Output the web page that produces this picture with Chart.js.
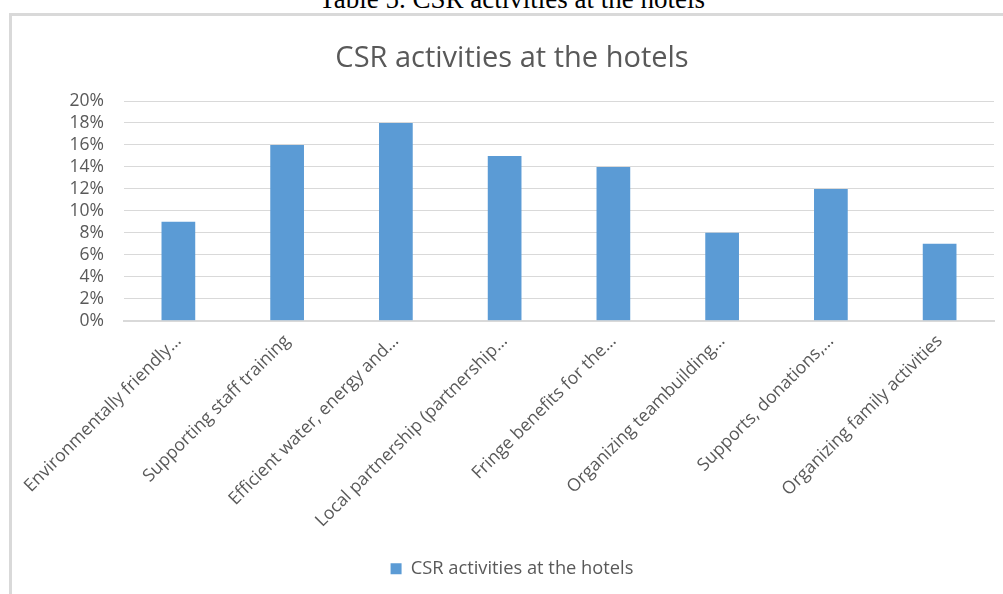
<!DOCTYPE html>
<html>
<head>
<meta charset="utf-8">
<script src="https://cdn.jsdelivr.net/npm/chart.js@4"></script>
<style>
    html, body { margin: 0; padding: 0; background: #fff; overflow: hidden; }
    body { width: 1003px; height: 594px; position: relative; }
    #caption {
        position: absolute; left: 0; width: 1024px; top: -14px;
        text-align: center; font: 27px/27px "Liberation Serif", "Times New Roman", serif; color: #000;
    }
    #box {
        position: absolute; left: 9px; top: 13px; width: 1010px; height: 600px;
        border-top: 3px solid #d9d9d9; border-left: 3px solid #d9d9d9;
    }
    #wrap { position: absolute; left: 11px; top: 16px; width: 992px; height: 578px; }
</style>
</head>
<body>
<div id="caption">Table 5. CSR activities at the hotels</div>
<div id="box"></div>
<div id="wrap"><canvas id="bar-chart"></canvas></div>
<script>
let categories = [
    'Environmentally friendly…',
    'Supporting staff training',
    'Efficient water, energy and…',
    'Local partnership (partnership…',
    'Fringe benefits for the…',
    'Organizing teambuilding…',
    'Supports, donations,…',
    'Organizing family activities'
];
let csrValues = [9, 16, 18, 15, 14, 8, 12, 7];
let yTicks = [0, 2, 4, 6, 8, 10, 12, 14, 16, 18, 20];

const seriesName = 'CSR activities at the hotels';
const grey = '#595959';
const font = '"Open Sans", Lato, sans-serif';

function getData() {
    return {
        labels: categories,
        datasets: [
            {
                label: seriesName,
                data: csrValues,
                backgroundColor: '#5b9bd5',
                borderWidth: 0,
                barPercentage: 0.31,
                categoryPercentage: 1.0,
            },
        ]
    };
}

function getConfig(data) {
    let config = {
        type: 'bar',
        data: data,
        options: {
            responsive: true,
            maintainAspectRatio: false,
            animation: false,
            layout: { padding: { left: 19, right: 9, top: 0, bottom: 6 } },
            plugins: {
                title: {
                    display: true,
                    text: 'CSR activities at the hotels',
                    color: grey,
                    font: { family: font, size: 29, weight: 'normal' },
                    padding: { top: 25, bottom: 25.2 }
                },
                legend: {
                    position: 'bottom',
                    labels: {
                        color: grey,
                        boxWidth: 11,
                        boxHeight: 11,
                        padding: 8,
                        font: { family: font, size: 18.3 }
                    }
                },
                tooltip: { enabled: false }
            },
            scales: {
                x: {
                    grid: { display: false },
                    border: { color: '#d9d9d9', width: 2 },
                    ticks: {
                        color: grey,
                        font: { family: font, size: 17.6 },
                        minRotation: 45,
                        maxRotation: 45,
                        autoSkip: false,
                        padding: 2
                    },
                    afterFit: function (scale) { scale.height = 231; }
                },
                y: {
                    min: 0,
                    max: 20,
                    grid: { color: '#d9d9d9', lineWidth: 1, drawTicks: false },
                    border: { display: false },
                    afterBuildTicks: function (scale) {
                        scale.ticks = yTicks.map(v => ({ value: v }));
                    },
                    ticks: {
                        color: grey,
                        font: { family: font, size: 17.5 },
                        padding: 20,
                        autoSkip: false,
                        callback: v => v + '%'
                    },
                    afterFit: function (scale) { scale.width = 94; }
                }
            }
        }
    };
    return config;
}

let ctx = document.getElementById('bar-chart').getContext('2d');
window.myBar = new Chart(ctx, getConfig(getData()));
</script>
</body>
</html>
